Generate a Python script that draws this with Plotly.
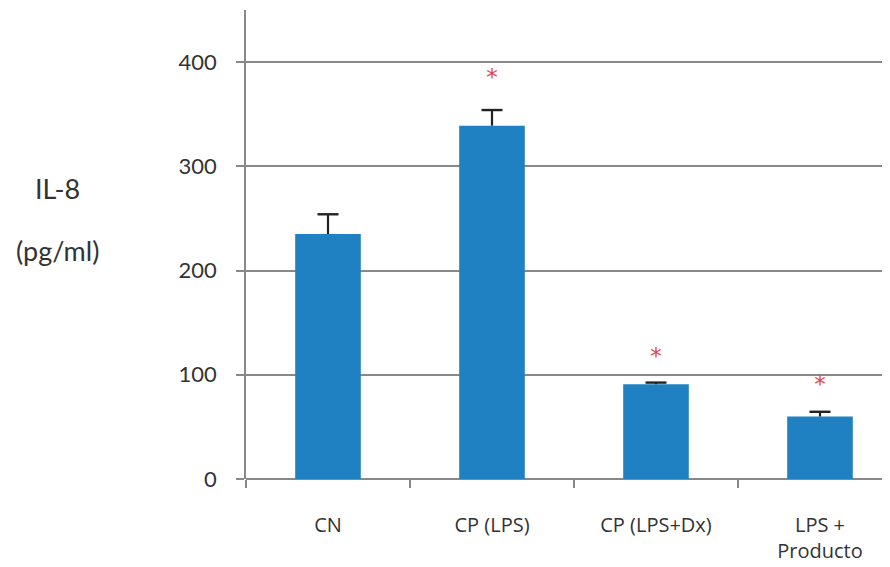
import plotly.graph_objects as go

categories = ["CN", "CP (LPS)", "CP (LPS+Dx)", "LPS +<br>Producto"]
values = [235, 339, 91, 60]
errors = [19, 15, 1.5, 4.5]
star_values = [None, 384, 116, 89]
star_text = ["", "*", "*", "*"]
y_ticks = [0, 100, 200, 300, 400]

# page body has an 8px margin; plot area in figure coordinates
L, T, H, W = 238, 2, 469, 652
Y0 = T + H


def px(xr):
    return (xr - 8 - L) / W


def py(yr):
    return (Y0 - (yr - 8)) / H


err_tops = [v + e for v, e in zip(values, errors)]

fig = go.Figure()
fig.add_trace(go.Bar(
    x=categories, y=values, width=0.4,
    marker=dict(color="#1f80c2", line=dict(width=0)),
    error_y=dict(type="data", symmetric=False, array=errors,
                 arrayminus=[0] * len(errors), color="#222222",
                 thickness=2.2, width=0),
    showlegend=False,
))
fig.add_trace(go.Scatter(
    x=categories, y=err_tops, mode="markers",
    marker=dict(symbol="line-ew", size=15,
                line=dict(color="#222222", width=2.4)),
    showlegend=False, hoverinfo="skip",
))
fig.add_trace(go.Scatter(
    x=categories, y=star_values, mode="text", text=star_text,
    textfont=dict(color="#e0474c", size=23, family="DejaVu Sans"),
    textposition="middle center", showlegend=False, hoverinfo="skip",
))

fig.update_layout(
    width=890, height=567,
    margin=dict(l=L, r=0, t=T, b=567 - Y0),
    paper_bgcolor="white", plot_bgcolor="white",
    font=dict(family="Lato", color="#333333"),
    xaxis=dict(
        range=[-0.5, -0.5 + W / 164], type="category",
        showline=False, showgrid=False, zeroline=False,
        ticks="outside", tickson="boundaries", ticklen=8,
        tickcolor="#888888", tickwidth=1.5,
        tickfont=dict(size=20, family="Open Sans", color="#333333"),
        ticklabelstandoff=32,
    ),
    yaxis=dict(
        range=[0, 450], tickvals=y_ticks,
        showline=True, linecolor="#888888", linewidth=1.5,
        showgrid=True, gridcolor="#888888", gridwidth=1.5,
        zeroline=True, zerolinecolor="#888888", zerolinewidth=1.5,
        ticks="outside", ticklen=8, tickcolor="#888888", tickwidth=1.5,
        tickfont=dict(size=22, family="Lato", color="#333333"),
        ticklabelstandoff=15,
    ),
    annotations=[
        dict(text="IL-8", xref="paper", yref="paper",
             x=px(57), y=py(188),
             showarrow=False, xanchor="center", yanchor="middle",
             font=dict(size=27, family="Lato", color="#333333")),
        dict(text="(pg/ml)", xref="paper", yref="paper",
             x=px(57), y=py(250),
             showarrow=False, xanchor="center", yanchor="middle",
             font=dict(size=27, family="Lato", color="#333333")),
    ],
)

fig.write_html("out.html")
